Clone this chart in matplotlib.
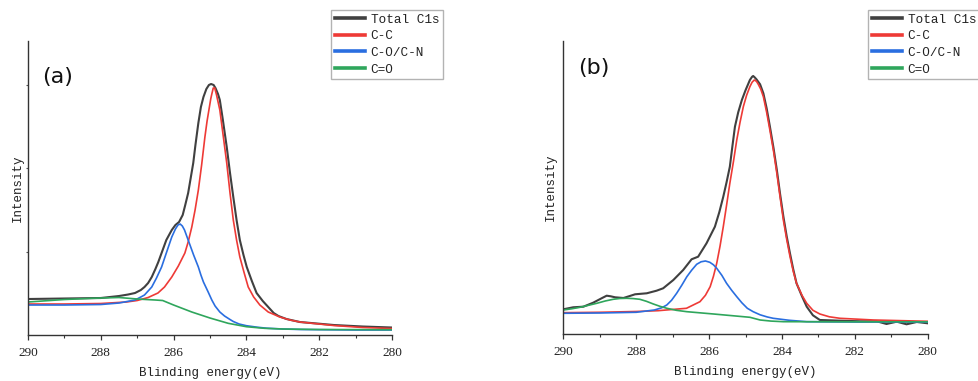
import numpy as np
import matplotlib
matplotlib.use("Agg")
import matplotlib.pyplot as plt

# ---- panel (a) ----
a_total_E = [290, 289, 288, 287.5, 287.25, 287.06, 286.9, 286.8, 286.7, 286.6, 286.5, 286.42, 286.33,
             286.2, 286.05, 285.95, 285.85, 285.75, 285.68, 285.6, 285.53, 285.46, 285.4, 285.32,
             285.25, 285.18, 285.1, 285.03, 284.97, 284.9, 284.85, 284.78, 284.73, 284.65, 284.54,
             284.45, 284.36, 284.27, 284.18, 284.08, 283.99, 283.85, 283.72, 283.55, 283.4, 283.25,
             283.12, 282.9, 282.53, 281.6, 280.8, 280]
a_total_I = [36, 36.5, 37, 39, 40.5, 42, 45, 48, 52, 58, 66, 73, 82,
             95, 105, 110, 113, 120, 130, 142, 157, 172, 190, 212,
             228, 238, 246, 250, 251, 250, 247, 241, 235, 216, 188,
             162, 138, 115, 95, 80, 68, 54, 42, 34, 28, 22,
             19, 16, 13, 10, 8.5, 7.5]

a_cc_E = [290, 289, 288, 287.3, 287, 286.7, 286.43, 286.25, 286.05, 285.87, 285.69, 285.6, 285.5,
          285.41, 285.32, 285.23, 285.14, 285.08, 285.03, 284.98, 284.95, 284.91, 284.87, 284.82,
          284.73, 284.64, 284.54, 284.45, 284.36, 284.27, 284.18, 284.06, 283.95, 283.8, 283.63,
          283.4, 283.08, 282.8, 282.53, 281.6, 280.8, 280]
a_cc_I = [31, 31, 31.5, 33, 34.5, 37.5, 42, 48, 58, 69, 82, 93, 108,
          125, 145, 170, 198, 214, 225, 236, 241, 247, 247, 240,
          225, 200, 172, 142, 115, 95, 78, 62, 48, 38, 30,
          23, 18, 15, 13, 9.5, 7.5, 6.5]

a_co_E = [290, 289, 288, 287.5, 287.06, 286.9, 286.8, 286.7, 286.6, 286.47, 286.33, 286.2, 286.05,
          285.95, 285.88, 285.82, 285.76, 285.7, 285.6, 285.52, 285.45, 285.32, 285.25, 285.18,
          285.05, 284.95, 284.86, 284.73, 284.6, 284.45, 284.36, 284.2, 284.0, 283.7, 283.44,
          283, 282.5, 281, 280]
a_co_I = [30, 30, 30.5, 32, 35, 38, 40, 44, 48, 57, 68, 82, 98,
          106, 110, 111, 109, 105, 95, 87, 80, 68, 60, 53,
          43, 35, 29, 23, 19, 15.5, 13.5, 11, 9.3, 7.8, 6.8,
          6, 5.5, 5, 5]

a_cdo_E = [290, 289, 288.25, 287.5, 287, 286.5, 286.3, 286, 285.5, 285, 284.5, 284, 283.5, 283, 282, 280]
a_cdo_I = [33, 35.5, 36.7, 37.5, 36, 35, 34.5, 30, 23, 17, 11.7, 8.3, 6.7, 6, 5.5, 5.3]

# ---- panel (b) ----
b_total_E = [290, 289.73, 289.45, 289.18, 288.95, 288.81, 288.7, 288.58, 288.35, 288.2, 288.03, 287.71,
             287.44, 287.26, 286.98, 286.71, 286.48, 286.3, 286.07, 285.84, 285.72, 285.61, 285.52,
             285.43, 285.36, 285.29, 285.2, 285.1, 285.0, 284.88, 284.82, 284.79, 284.75, 284.7,
             284.6, 284.51, 284.42, 284.33, 284.23, 284.14, 284.05, 283.96, 283.87, 283.78, 283.69,
             283.6, 283.45, 283.32, 283.15, 282.96, 282.41, 281.86, 281.4, 281.13, 280.85, 280.58,
             280.3, 280]
b_total_I = [25, 27, 27.6, 31.6, 36, 38.6, 38, 37, 36.3, 38, 40, 41,
             43.6, 46, 54.3, 64.3, 75, 77.6, 91, 107.6, 122, 137.6, 152,
             167.6, 188, 207.6, 222, 234.3, 244, 254.3, 257.5, 258.3, 257, 255,
             250, 241, 226, 207.6, 186, 164.3, 140, 117.6, 98, 81, 65,
             51, 38, 27.6, 19, 14.3, 13.6, 13, 13, 10.3, 12.6, 10,
             12.3, 11]

b_cc_E = [290, 289, 288, 287.4, 286.62, 286.25, 286.1, 285.97, 285.88, 285.79, 285.7, 285.61, 285.52,
          285.43, 285.33, 285.24, 285.15, 285.06, 284.97, 284.88, 284.82, 284.76, 284.7, 284.65,
          284.58, 284.51, 284.42, 284.33, 284.23, 284.14, 284.05, 283.96, 283.87, 283.78, 283.69,
          283.6, 283.45, 283.32, 283.15, 282.96, 282.7, 282.41, 281.49, 280]
b_cc_I = [21.6, 22, 22.8, 23.6, 26, 32.6, 39, 47.6, 58, 71, 88, 107.6, 129,
          151, 173, 194.3, 212, 227.6, 239, 247.6, 252, 254.3, 253, 250,
          245, 237.6, 222, 204, 183, 161, 137, 114, 95, 78, 63,
          51, 39, 31, 24, 20.3, 17.5, 16, 14.3, 13]

b_co_E = [290, 289, 288, 287.5, 287.3, 287.16, 287.03, 286.89, 286.75, 286.61, 286.48, 286.34, 286.22,
          286.1, 285.98, 285.88, 285.79, 285.65, 285.52, 285.38, 285.24, 285.1, 284.95, 284.79,
          284.6, 284.4, 284.24, 283.8, 283.32, 282, 280]
b_co_I = [21, 21.3, 22, 24.3, 26.5, 29.3, 34, 41, 49, 57.6, 64, 70, 72.5,
          73.3, 72, 69.5, 66, 59, 51, 44, 37.6, 31.5, 26, 22.6,
          19.5, 17.3, 16, 14, 12.6, 12.3, 12.3]

b_cdo_E = [290, 289.77, 289.54, 289.31, 289.08, 288.85, 288.63, 288.45, 288.26, 288.08, 287.9, 287.72,
           287.53, 287.35, 287.16, 286.9, 286.61, 285.88, 284.88, 284.6, 284.3, 283.96, 282, 280]
b_cdo_I = [24.3, 25.5, 27, 29, 31, 33.3, 35, 35.8, 36, 35.7, 35, 33,
           30.3, 28, 26, 24, 22.6, 20.3, 17, 14.3, 13.2, 12.6, 12.5, 12.5]

labels = ["Total C1s", "C-C", "C-O/C-N", "C=O"]
colors = ["#404040", "#ee3a36", "#2a6ee0", "#2fa65c"]

mono = "Liberation Mono"
serif = "Liberation Serif"
txt = "#222222"

fig = plt.figure(figsize=(9.79, 3.81), dpi=100)
ax1 = fig.add_axes([0.0286, 0.1207, 0.3718, 0.7717])
ax2 = fig.add_axes([0.5754, 0.1226, 0.3722, 0.7706])

panels = [
    (ax1, "(a)", [(a_total_E, a_total_I), (a_cc_E, a_cc_I), (a_co_E, a_co_I), (a_cdo_E, a_cdo_I)],
     294, 0.338, 0.879, True, -2),
    (ax2, "(b)", [(b_total_E, b_total_I), (b_cc_E, b_cc_I), (b_co_E, b_co_I), (b_cdo_E, b_cdo_I)],
     293.6, 0.8867, 0.907, False, 4.5),
]

for ax, tag, series, ytop, legx, tagy, yticks, ypad in panels:
    for (E, I), lab, c in zip(series, labels, colors):
        lw = 1.5 if lab == "Total C1s" else 1.2
        ax.plot(E, I, color=c, lw=lw, label=lab)
    ax.set_xlim(290, 280)
    ax.set_ylim(0, ytop)
    ax.set_xticks(np.arange(290, 279, -2))
    ax.set_xticks(np.arange(289, 280, -2), minor=True)
    for s in ["top", "right"]:
        ax.spines[s].set_visible(False)
    for s in ["left", "bottom"]:
        ax.spines[s].set_color("#333333")
        ax.spines[s].set_linewidth(1.0)
    ax.tick_params(axis="x", which="major", direction="out", length=3.5, width=0.9,
                   colors="#333333", pad=5)
    ax.tick_params(axis="x", which="minor", direction="out", length=2.2, width=0.8,
                   colors="#333333")
    if yticks:
        ax.set_yticks([83.3, 166.7, 250])
        ax.tick_params(axis="y", direction="out", length=1.5, width=0.8, colors="#555555")
    else:
        ax.set_yticks([])
    ax.set_yticklabels([])
    for t in ax.get_xticklabels():
        t.set_fontfamily(serif)
        t.set_fontsize(9.5)
        t.set_color(txt)
    ax.set_xlabel("Blinding energy(eV)", fontfamily=mono, fontsize=9, color=txt, labelpad=6)
    ax.set_ylabel("Intensity", fontfamily=mono, fontsize=9, color=txt, labelpad=ypad)
    ax.text(0.04, tagy, tag, transform=ax.transAxes, fontsize=16, fontfamily="DejaVu Sans",
            color="#111111", va="center", ha="left")
    leg = ax.legend(loc="upper left", bbox_to_anchor=(legx, 0.974), bbox_transform=fig.transFigure,
                    borderaxespad=0, frameon=True, fancybox=False, edgecolor="#a0a0a0",
                    prop={"family": mono, "size": 9.2}, handlelength=2.35, handletextpad=0.45,
                    labelspacing=0.36, borderpad=0.3)
    leg.get_frame().set_linewidth(1.0)
    for h in leg.get_lines():
        h.set_linewidth(2.6)
    for t in leg.get_texts():
        t.set_color(txt)

fig.savefig("out.png", dpi=100)
